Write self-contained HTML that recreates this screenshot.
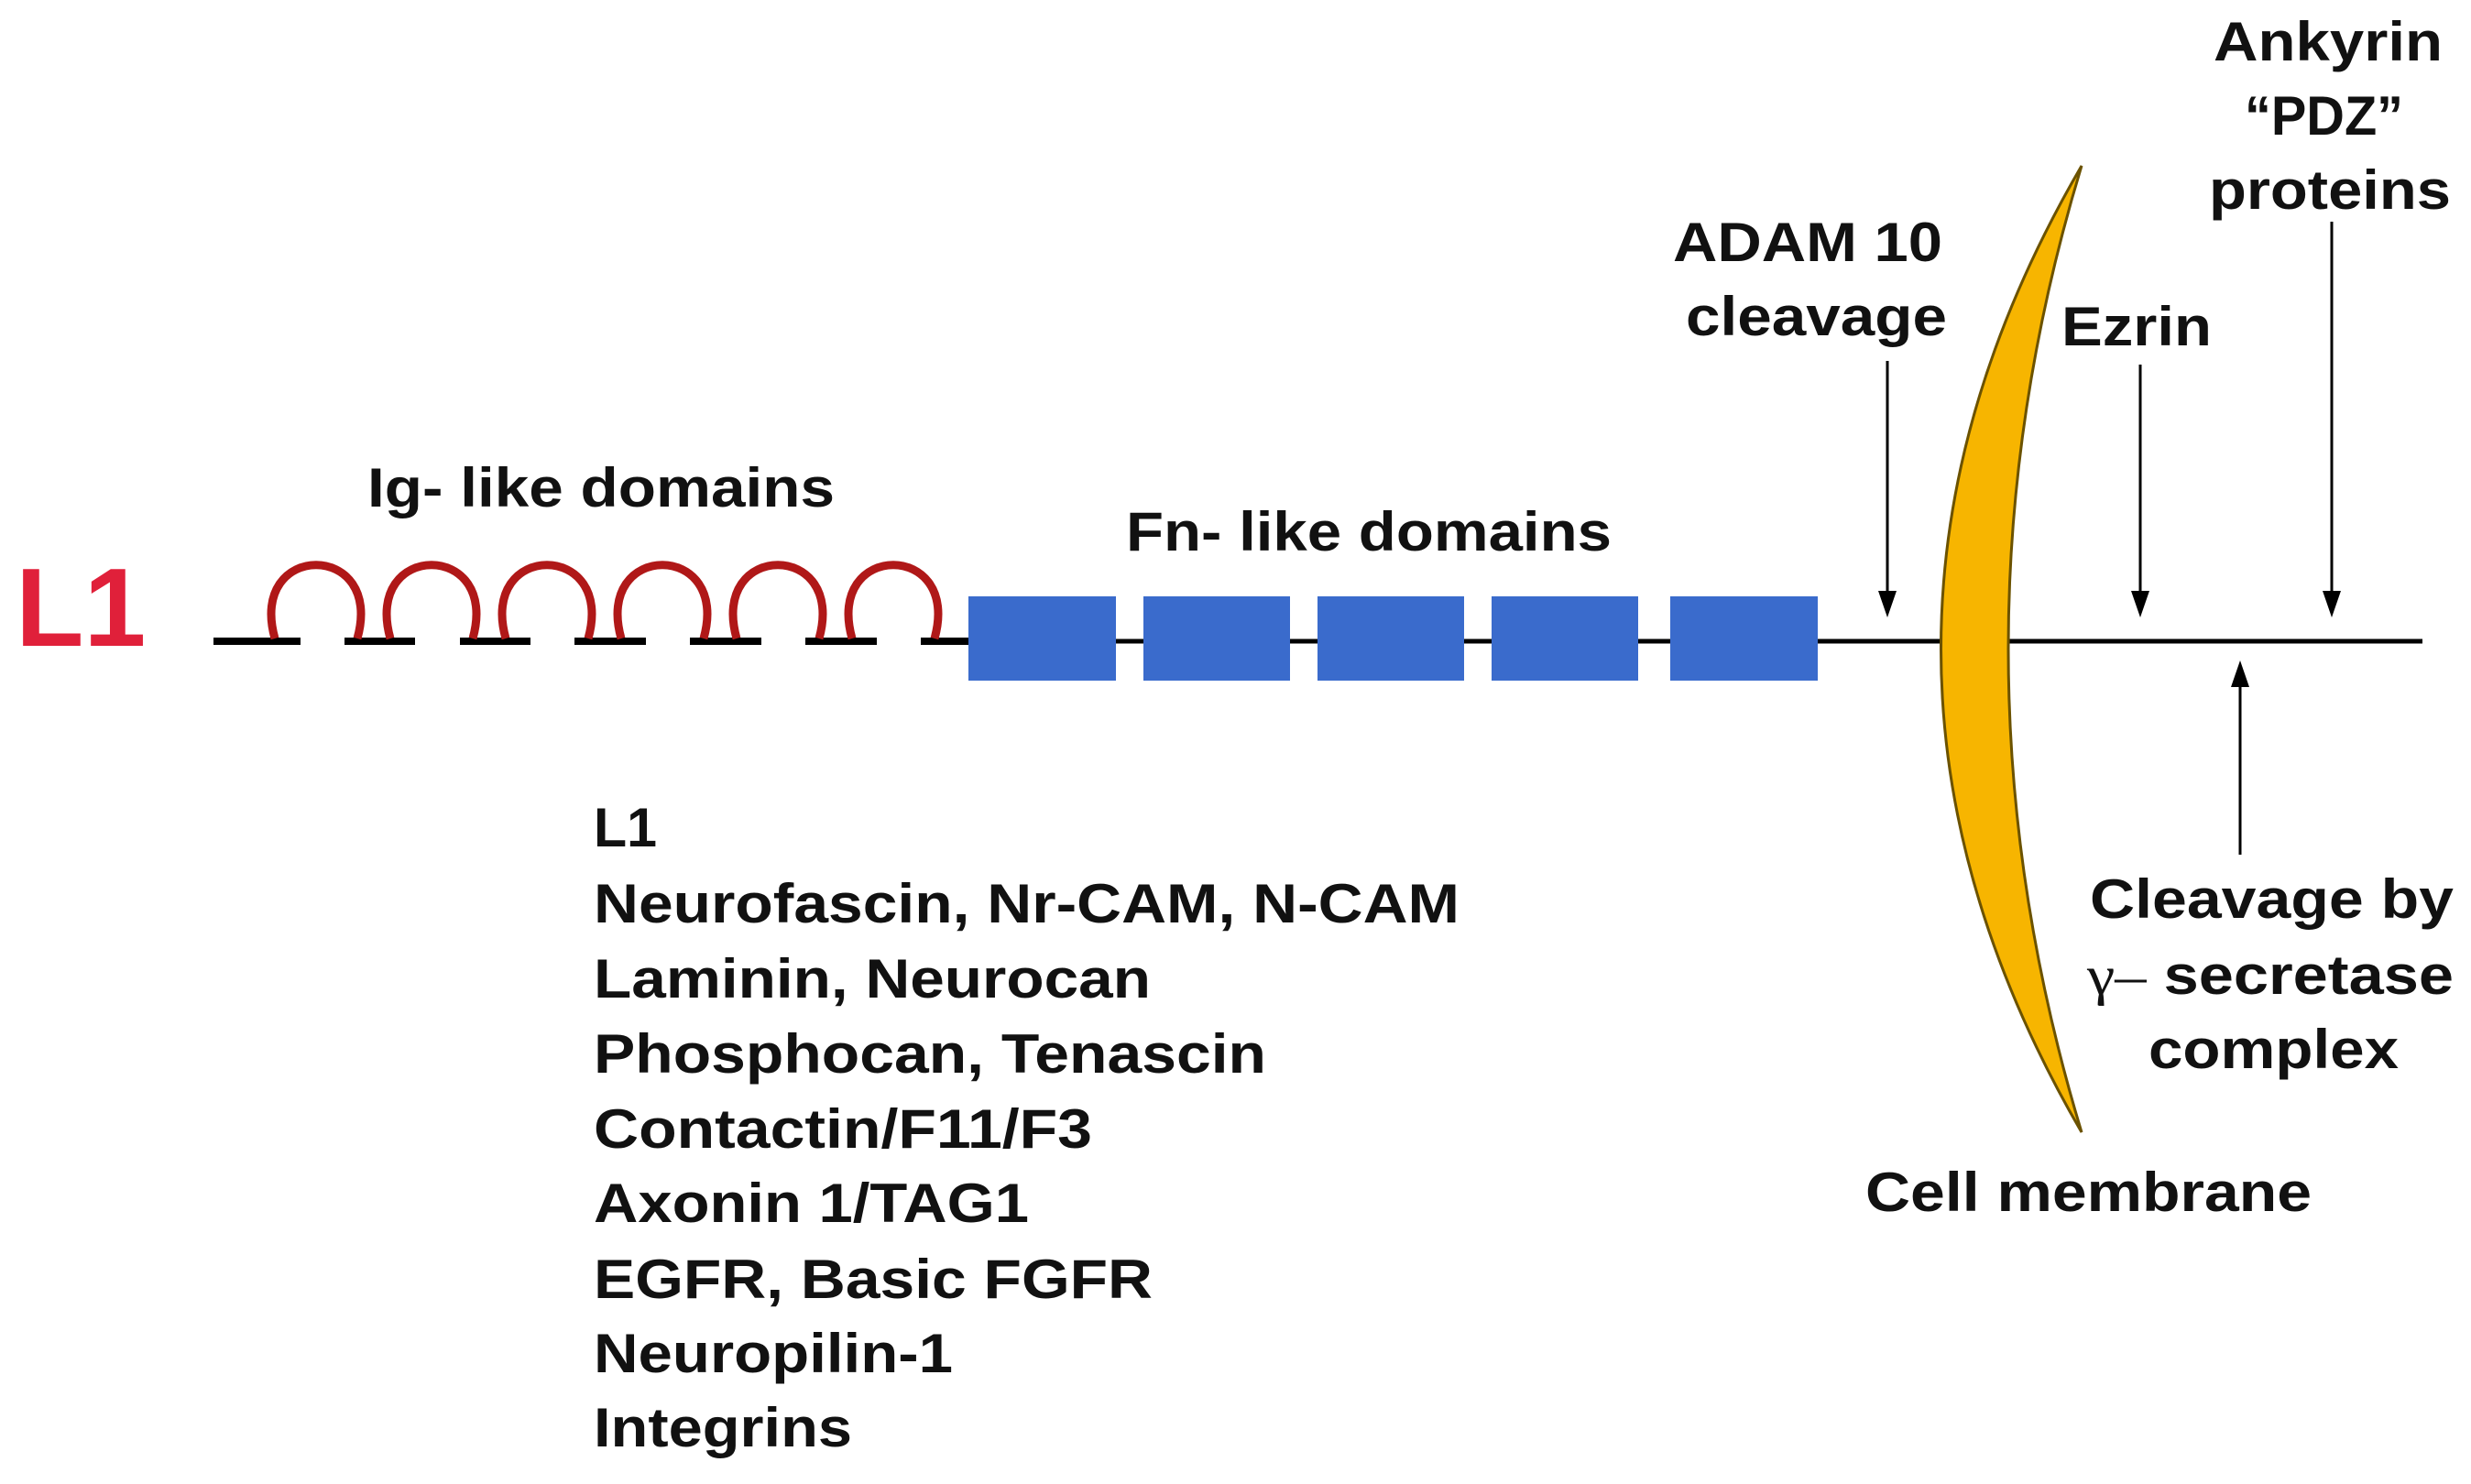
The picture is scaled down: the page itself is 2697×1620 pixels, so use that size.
<!DOCTYPE html>
<html><head><meta charset="utf-8"><style>html,body{margin:0;padding:0;background:#fff}svg{display:block}</style></head><body>
<svg width="2697" height="1620" viewBox="0 0 2697 1620" xmlns="http://www.w3.org/2000/svg">
<g font-family="Liberation Sans, Arial, sans-serif" font-weight="bold" fill="#111" lengthAdjust="spacingAndGlyphs">
<text x="17" y="705" font-size="122" fill="#e0203a">L1</text>
<text x="401" y="553" font-size="60" textLength="510" lengthAdjust="spacingAndGlyphs">Ig- like domains</text>
<text x="1229" y="601" font-size="60" textLength="530" lengthAdjust="spacingAndGlyphs">Fn- like domains</text>
<text x="1826" y="285" font-size="60" textLength="294" lengthAdjust="spacingAndGlyphs">ADAM 10</text>
<text x="1840" y="366" font-size="60" textLength="285" lengthAdjust="spacingAndGlyphs">cleavage</text>
<text x="2250" y="377" font-size="60" textLength="164" lengthAdjust="spacingAndGlyphs">Ezrin</text>
<text x="2416" y="66" font-size="60" textLength="250" lengthAdjust="spacingAndGlyphs">Ankyrin</text>
<text x="2450" y="147" font-size="60" textLength="173" lengthAdjust="spacingAndGlyphs">“PDZ”</text>
<text x="2411" y="228" font-size="60" textLength="264" lengthAdjust="spacingAndGlyphs">proteins</text>
<text x="2281" y="1002" font-size="60" textLength="397" lengthAdjust="spacingAndGlyphs">Cleavage by</text>
<text x="2278" y="1085" font-size="60" textLength="400" lengthAdjust="spacingAndGlyphs"><tspan font-family="Liberation Serif, serif" font-weight="normal">γ–</tspan> secretase</text>
<text x="2345" y="1166" font-size="60" textLength="273" lengthAdjust="spacingAndGlyphs">complex</text>
<text x="2036" y="1322" font-size="60" textLength="487" lengthAdjust="spacingAndGlyphs">Cell membrane</text>
<g font-size="60">
<text x="648" y="924" textLength="69" lengthAdjust="spacingAndGlyphs">L1</text>
<text x="648" y="1007" textLength="945" lengthAdjust="spacingAndGlyphs">Neurofascin, Nr-CAM, N-CAM</text>
<text x="648" y="1089" textLength="608" lengthAdjust="spacingAndGlyphs">Laminin, Neurocan</text>
<text x="648" y="1171" textLength="734" lengthAdjust="spacingAndGlyphs">Phosphocan, Tenascin</text>
<text x="648" y="1253" textLength="544" lengthAdjust="spacingAndGlyphs">Contactin/F11/F3</text>
<text x="648" y="1334" textLength="475" lengthAdjust="spacingAndGlyphs">Axonin 1/TAG1</text>
<text x="648" y="1417" textLength="610" lengthAdjust="spacingAndGlyphs">EGFR, Basic FGFR</text>
<text x="648" y="1498" textLength="392" lengthAdjust="spacingAndGlyphs">Neuropilin-1</text>
<text x="648" y="1579" textLength="282" lengthAdjust="spacingAndGlyphs">Integrins</text>
</g>
</g>
<line x1="1050" y1="700" x2="2644" y2="700" stroke="#000" stroke-width="5"/>
<g stroke="#000" stroke-width="8">
<line x1="233" y1="700" x2="328" y2="700"/>
<line x1="376" y1="700" x2="453" y2="700"/>
<line x1="502" y1="700" x2="579" y2="700"/>
<line x1="627" y1="700" x2="705" y2="700"/>
<line x1="753" y1="700" x2="831" y2="700"/>
<line x1="879" y1="700" x2="957" y2="700"/>
<line x1="1005" y1="700" x2="1060" y2="700"/>
</g>
<g fill="none" stroke="#b01818" stroke-width="9">
<path d="M300,697 C270,590 420,590 390,697"/>
<path d="M426,697 C396,590 546,590 516,697"/>
<path d="M552,697 C522,590 672,590 642,697"/>
<path d="M678,697 C648,590 798,590 768,697"/>
<path d="M804,697 C774,590 924,590 894,697"/>
<path d="M930,697 C900,590 1050,590 1020,697"/>
</g>
<g fill="#3a6bcc">
<rect x="1057" y="651" width="161" height="92"/>
<rect x="1248" y="651" width="160" height="92"/>
<rect x="1438" y="651" width="160" height="92"/>
<rect x="1628" y="651" width="160" height="92"/>
<rect x="1823" y="651" width="161" height="92"/>
</g>
<path d="M2272,181 Q1965,708 2272,1236 Q2112,708 2272,181 Z" fill="#f7b500" stroke="#6b5200" stroke-width="3"/>
<g stroke="#000" stroke-width="3">
<line x1="2060" y1="394" x2="2060" y2="650"/>
<line x1="2336" y1="398" x2="2336" y2="650"/>
<line x1="2545" y1="242" x2="2545" y2="650"/>
<line x1="2445" y1="933" x2="2445" y2="745"/>
</g>
<g fill="#000">
<polygon points="2050,645 2070,645 2060,674"/>
<polygon points="2326,645 2346,645 2336,674"/>
<polygon points="2535,645 2555,645 2545,674"/>
<polygon points="2435,750 2455,750 2445,721"/>
</g>
</svg>
</body></html>
